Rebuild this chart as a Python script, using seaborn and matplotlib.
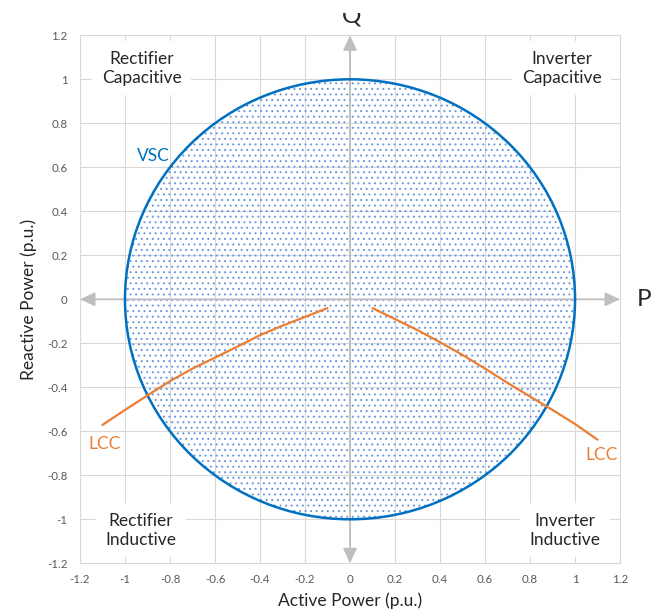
"""
P-Q capability chart: VSC circle vs LCC operating curves
"""
import matplotlib
matplotlib.use("Agg")
import matplotlib.pyplot as plt
from matplotlib.patches import Circle, Rectangle
import pandas as pd
import seaborn as sns

# LCC curves (P, Q in p.u.)
lcc_rect_p = [-1.10, -1.00, -0.90, -0.80, -0.70, -0.60, -0.50, -0.40, -0.30, -0.20, -0.10]
lcc_rect_q = [-0.571, -0.503, -0.437, -0.372, -0.315, -0.265, -0.215, -0.163, -0.12, -0.08, -0.04]
lcc_inv_p = [0.10, 0.20, 0.30, 0.40, 0.50, 0.60, 0.70, 0.80, 0.90, 1.00, 1.10]
lcc_inv_q = [-0.04, -0.09, -0.14, -0.195, -0.253, -0.315, -0.38, -0.442, -0.503, -0.567, -0.638]

# VSC capability: unit circle
vsc_radius = 1.0

tick_values = [-1.2, -1.0, -0.8, -0.6, -0.4, -0.2, 0.0, 0.2, 0.4, 0.6, 0.8, 1.0, 1.2]
tick_labels = ['-1.2', '-1', '-0.8', '-0.6', '-0.4', '-0.2', '0',
               '0.2', '0.4', '0.6', '0.8', '1', '1.2']

quadrant_labels = ['Rectifier\nCapacitive', 'Inverter\nCapacitive',
                   'Rectifier\nInductive', 'Inverter\nInductive']

sns.set_style("white")
plt.rcParams['font.family'] = ['Lato', 'DejaVu Sans']
plt.rcParams['hatch.linewidth'] = 0.7

blue = '#0070C0'
dot_blue = '#6A97DD'
orange = '#ED7D31'
grid_gray = '#D9D9D9'
arrow_gray = '#BFBFBF'

fig = plt.figure(figsize=(6.62, 6.12), dpi=100)
ax = fig.add_axes([0.1208, 0.0796, 0.8158, 0.8627])

ax.set_xlim(tick_values[0], tick_values[-1])
ax.set_ylim(tick_values[0], tick_values[-1])
ax.set_xticks(tick_values)
ax.set_xticklabels(tick_labels)
ax.set_yticks(tick_values)
ax.set_yticklabels(tick_labels)
ax.tick_params(length=0, labelsize=8.3, labelcolor='#595959')
ax.tick_params(axis='x', pad=8)
ax.tick_params(axis='y', pad=9)
ax.grid(True, color=grid_gray, lw=0.8, zorder=0)
ax.set_axisbelow(True)
for sp in ax.spines.values():
    sp.set_color(grid_gray)
    sp.set_linewidth(0.8)

# VSC circle: dotted fill + outline
fill = Circle((0, 0), vsc_radius, facecolor='none', edgecolor=dot_blue,
              lw=0, hatch='...', zorder=1)
ax.add_patch(fill)
outline = Circle((0, 0), vsc_radius, facecolor='none', edgecolor=blue,
                 lw=1.8, zorder=4)
ax.add_patch(outline)

# axis arrows
arrow_kw = dict(arrowstyle='<|-|>,head_length=0.6,head_width=0.28',
                color=arrow_gray, lw=1.3, shrinkA=0, shrinkB=0,
                mutation_scale=15)
ax.annotate('', xy=(tick_values[-1], 0), xytext=(tick_values[0], 0),
            arrowprops=arrow_kw, zorder=2)
ax.annotate('', xy=(0, tick_values[-1]), xytext=(0, tick_values[0]),
            arrowprops=arrow_kw, zorder=2)

# LCC curves
rect_df = pd.DataFrame({'P': lcc_rect_p, 'Q': lcc_rect_q})
inv_df = pd.DataFrame({'P': lcc_inv_p, 'Q': lcc_inv_q})
sns.lineplot(data=rect_df, x='P', y='Q', sort=False, color=orange, lw=1.6, ax=ax, zorder=5)
sns.lineplot(data=inv_df, x='P', y='Q', sort=False, color=orange, lw=1.6, ax=ax, zorder=5)

ax.set_xlabel('Active Power (p.u.)', fontsize=12.5, color='#262626', labelpad=5)
ax.set_ylabel('Reactive Power (p.u.)', fontsize=12.5, color='#262626', labelpad=7)

# quadrant labels with white boxes
box = dict(facecolor='white', edgecolor='none', pad=7)
label_pos = [(-0.925, 1.05), (0.94, 1.05), (-0.93, -1.05), (0.955, -1.05)]
for txt, (x, y) in zip(quadrant_labels, label_pos):
    ax.text(x, y, txt, ha='center', va='center', fontsize=12.5,
            linespacing=1.2, bbox=box, zorder=3)

ax.text(-0.873, 0.651, 'VSC', color=blue, fontsize=12.5, ha='center', va='center', zorder=6)
ax.text(-1.092, -0.66, 'LCC', color=orange, fontsize=12.5, ha='center', va='center', zorder=6)
ax.text(1.118, -0.71, 'LCC', color=orange, fontsize=12.5, ha='center', va='center', zorder=6)

# P / Q axis names (Q is cut off at the top, as in the original)
ax.text(1.276, 0.0, 'P', fontsize=17.5, ha='left', va='center', clip_on=False)
q = fig.text(352 / 662, 1 - 22 / 612, 'Q', fontsize=17.5, ha='center', va='baseline')
q.set_clip_on(True)
q.set_clip_path(Rectangle((0, 0), 1, 1 - 12.7 / 612, transform=fig.transFigure))

fig.savefig('out.png', dpi=100)
